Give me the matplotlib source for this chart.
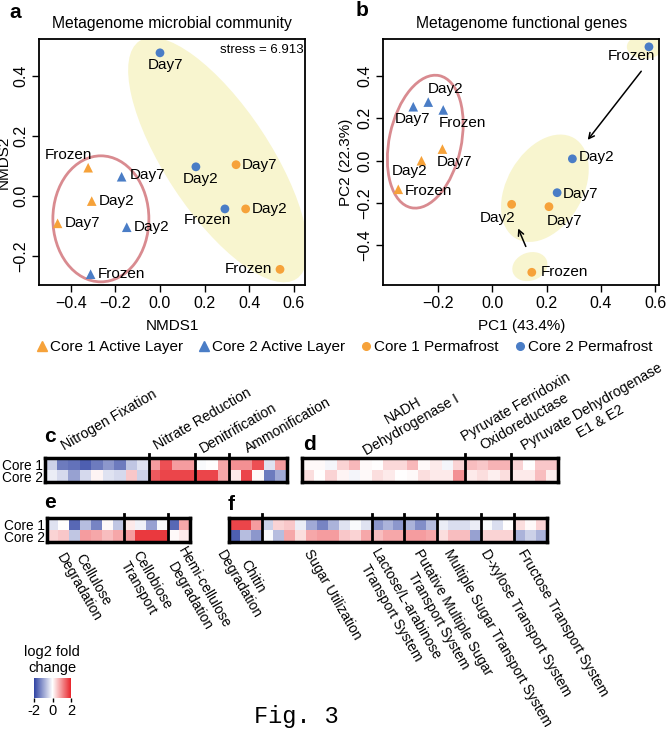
import numpy as np
import matplotlib
matplotlib.use("Agg")
import matplotlib.pyplot as plt
from matplotlib.patches import Ellipse
from matplotlib.transforms import ScaledTranslation
from matplotlib.colors import LinearSegmentedColormap, Normalize
from matplotlib.lines import Line2D
import matplotlib.cm as cm

plt.rcParams['font.family'] = ['Liberation Sans', 'DejaVu Sans']

# ---- ordination data: C1 active, C2 active, C1 permafrost, C2 permafrost ----
sample_core = [1, 1, 1, 2, 2, 2, 1, 1, 1, 2, 2, 2]
sample_layer = ['Active'] * 6 + ['Permafrost'] * 6
sample_day = ['Frozen', 'Day2', 'Day7'] * 4

nmds1 = [-0.322, -0.306, -0.459, -0.311, -0.149, -0.172,
         0.538, 0.384, 0.341, 0.291, 0.161, 0.0]
nmds2 = [0.094, -0.017, -0.091, -0.260, -0.104, 0.064,
         -0.244, -0.043, 0.104, -0.043, 0.097, 0.476]

pc1 = [-0.344, -0.259, -0.182, -0.179, -0.234, -0.289,
       0.146, 0.072, 0.209, 0.576, 0.295, 0.239]
pc2 = [-0.135, 0.0, 0.055, 0.240, 0.277, 0.255,
       -0.527, -0.206, -0.217, 0.538, 0.009, -0.151]

a_ticks_x = [-0.4, -0.2, 0.0, 0.2, 0.4, 0.6]
a_ticks_y = [-0.2, 0.0, 0.2, 0.4]
b_ticks_x = [-0.2, 0.0, 0.2, 0.4, 0.6]
b_ticks_y = [-0.4, -0.2, 0.0, 0.2, 0.4]

# ---- heatmap data (log2 fold change) ----
c_groups = [("Nitrogen Fixation", 9), ("Nitrate Reduction", 4),
            ("Denitrification", 3), ("Ammonification", 5)]
c_core1 = [-0.5, -1.4, -1.5, -1.7, -1.4, -1.1, -1.4, -0.6, -0.3,
           0.9, 1.6, 0.9, 0.9,
           -0.05, 0.0, 0.8,
           1.0, 1.0, 1.6, -0.3, 0.9]
c_core2 = [-0.2, -0.4, -1.0, -0.4, 0.1, -0.3, -0.4, 0.5, -0.5,
           1.5, 1.7, 1.7, 1.7,
           1.7, 1.7, 0.8,
           0.2, 1.7, 0.05, -1.4, -0.9]

d_groups = [("NADH\nDehydrogenase I", 14),
            ("Pyruvate Ferridoxin\nOxidoreductase", 4),
            ("Pyruvate Dehydrogenase\nE1 & E2", 4)]
d_core1 = [0.05, 0.05, -0.1, 0.4, 0.65, 0.05, 0.0, 0.35, 0.35, 0.65, 0.05, 0.2, -0.1, 0.4,
           0.6, 0.5, 0.7, 0.7,
           0.4, 0.0, 0.5, 0.5]
d_core2 = [0.3, 0.0, 0.4, 0.1, -0.1, 0.05, 0.3, 0.2, 0.0, 0.05, 0.3, 0.2, 0.2, 1.0,
           0.2, 0.3, 0.15, 0.3,
           0.2, 0.2, 0.6, 0.15]

e_groups = [("Cellulose\nDegradation", 7), ("Cellobiose\nTransport", 4),
            ("Hemi-cellulose\nDegradation", 2)]
e_core1 = [-0.3, 0.0, -1.6, -0.7, -1.3, 0.05, -0.6,
           0.2, -0.15, -1.0, -0.05,
           -1.6, 0.8]
e_core2 = [0.4, 0.5, -0.6, 0.9, 0.8, 0.6, 0.8,
           0.9, 1.8, 1.8, 1.8,
           0.05, 0.2]

f_groups = [("Chitin\nDegradation", 3), ("Sugar Utilization", 10),
            ("Lactose/L-arabinose\nTransport System", 3),
            ("Putative Multiple Sugar\nTransport System", 3),
            ("Multiple Sugar Transport System", 4),
            ("D-xylose Transport System", 3),
            ("Fructose Transport System", 3)]
f_core1 = [1.7, 1.7, 0.9,
           -0.5, 0.4, 0.5, -0.2, -0.9, -1.3, -0.8, -0.3, -0.05, -0.3,
           -1.1, -0.8, -1.1,
           -0.8, -1.2, -0.7,
           -0.2, -0.35, -0.35, -0.2,
           -0.05, -0.35, 0.0,
           0.3, 0.05, 0.4]
f_core2 = [-1.7, -0.7, -1.1,
           -0.05, -0.7, 0.8, 0.3, 0.8, 0.9, 0.9, 0.5, 0.4, 0.8,
           0.6, 0.8, 0.8,
           0.9, 0.9, 0.8,
           0.3, 0.6, 0.6, -1.0,
           0.4, 0.4, 0.4,
           -0.8, -0.5, -0.8]

ORANGE = '#f6a23a'
BLUE = '#4a7dc6'
ROSE = '#d98b90'
CREAM = '#f8f5cf'
core_color = {1: ORANGE, 2: BLUE}
layer_marker = {'Active': '^', 'Permafrost': 'o'}
lfc_cmap = LinearSegmentedColormap.from_list('lfc', ['#2f43a3', '#ffffff', '#e8242a'])

W, H, DPI = 670, 730, 100
fig = plt.figure(figsize=(W / DPI, H / DPI), dpi=DPI)


def px_axes(x0, y0, x1, y1):
    return fig.add_axes([x0 / W, 1 - y1 / H, (x1 - x0) / W, (y1 - y0) / H])


def ftext(x, y, s, **kw):
    return fig.text(x / W, 1 - y / H, s, **kw)


def halo(ax, cx, cy, w, h, ang, **kw):
    # ellipse sized in pixels, centred on a data point
    tr = fig.dpi_scale_trans + ScaledTranslation(cx, cy, ax.transData)
    ax.add_patch(Ellipse((0, 0), w / DPI, h / DPI, angle=ang, transform=tr, **kw))


def fmt(t):
    return f'{t:.1f}'.replace('-', '\u2212')


def ordination(ax, xs, ys, offsets, xt, yt, xlim, ylim):
    for i in range(len(xs)):
        ax.scatter(xs[i], ys[i], s=48 if sample_layer[i] == 'Active' else 40,
                   marker=layer_marker[sample_layer[i]],
                   color=core_color[sample_core[i]], edgecolors='none', zorder=3)
        dx, dy, ha = offsets[i]
        ax.annotate(sample_day[i], (xs[i], ys[i]), xytext=(dx, dy),
                    textcoords='offset pixels', ha=ha, va='center', fontsize=11, zorder=4)
    ax.set_xlim(*xlim)
    ax.set_ylim(*ylim)
    ax.set_xticks(xt, [fmt(t) for t in xt])
    ax.set_yticks(yt, [fmt(t) for t in yt])
    ax.tick_params(direction='out', length=5, width=1, labelsize=11.5, pad=3)
    for lab in ax.get_yticklabels():
        lab.set_rotation(90)
        lab.set_va('center')
    for s in ax.spines.values():
        s.set_linewidth(1.3)


# ---- panel a ----
ax_a = px_axes(39.3, 39, 305, 285)
a_off = [(-20, 12.7, 'center'), (7, 0, 'left'), (7, 0, 'left'), (7, 0, 'left'),
         (7, 0, 'left'), (8, 1.7, 'left'), (-8, 0, 'right'), (6.5, 0, 'left'),
         (5.5, 0, 'left'), (-17.7, -11, 'center'), (5, -11.7, 'center'), (6, -11.7, 'center')]
halo(ax_a, 0.26, 0.12, 285, 105, -56.6, facecolor=CREAM, edgecolor='none', zorder=1)
halo(ax_a, -0.265, -0.076, 96, 126, 0, facecolor='none', edgecolor=ROSE, lw=2, zorder=2)
ordination(ax_a, nmds1, nmds2, a_off, a_ticks_x, a_ticks_y, (-0.541, 0.650), (-0.296, 0.522))
ax_a.set_xlabel('NMDS1', fontsize=11, labelpad=6)
ax_a.set_ylabel('NMDS2', fontsize=11, labelpad=2)
ax_a.set_title('Metagenome microbial community', fontsize=11.3, pad=8)
ax_a.text(0.995, 0.955, 'stress = 6.913', transform=ax_a.transAxes,
          ha='right', va='center', fontsize=9.5)

# ---- panel b ----
ax_b = px_axes(383.3, 39, 659.3, 285)
b_off = [(6.7, -1.7, 'left'), (-12.3, -10.3, 'center'), (11.7, -13.3, 'center'),
         (19.4, -13.3, 'center'), (17.7, 12.7, 'center'), (-0.6, -12.6, 'center'),
         (9, 0, 'left'), (-14, -14, 'center'), (16, -14, 'center'),
         (-17.3, -9.3, 'center'), (6, 2, 'left'), (5.7, -1.3, 'left')]
halo(ax_b, 0.194, -0.130, 116, 76, 60, facecolor=CREAM, edgecolor='none', zorder=1)
halo(ax_b, 0.139, -0.50, 36, 28, 20, facecolor=CREAM, edgecolor='none', zorder=1)
halo(ax_b, 0.561, 0.538, 36, 24, 0, facecolor=CREAM, edgecolor='none', zorder=1)
halo(ax_b, -0.245, 0.09, 72, 135, -12, facecolor='none', edgecolor=ROSE, lw=2, zorder=2)
ordination(ax_b, pc1, pc2, b_off, b_ticks_x, b_ticks_y, (-0.399, 0.614), (-0.587, 0.575))
ax_b.annotate('', xy=(0.345, 0.088), xytext=(0.554, 0.433),
              arrowprops=dict(arrowstyle='->', color='black', lw=1.1))
ax_b.annotate('', xy=(0.092, -0.308), xytext=(0.128, -0.417),
              arrowprops=dict(arrowstyle='->', color='black', lw=1.1))
ax_b.set_xlabel('PC1 (43.4%)', fontsize=11, labelpad=6)
ax_b.set_ylabel('PC2 (22.3%)', fontsize=11, labelpad=3)
ax_b.set_title('Metagenome functional genes', fontsize=11.3, pad=8)

ftext(15, 12, 'a', fontsize=15, fontweight='bold', ha='center', va='center')
ftext(362, 11, 'b', fontsize=15, fontweight='bold', ha='center', va='center')

# ---- legend ----
handles = [Line2D([], [], ls='none', marker='^', color=ORANGE, markersize=6.5),
           Line2D([], [], ls='none', marker='^', color=BLUE, markersize=6.5),
           Line2D([], [], ls='none', marker='o', color=ORANGE, markersize=5.5),
           Line2D([], [], ls='none', marker='o', color=BLUE, markersize=5.5)]
fig.legend(handles, ['Core 1 Active Layer', 'Core 2 Active Layer',
                     'Core 1 Permafrost', 'Core 2 Permafrost'],
           loc='center', bbox_to_anchor=(0.514, 1 - 347 / H), ncol=4, frameon=False,
           fontsize=11, handlelength=0.7, handletextpad=0.2, columnspacing=1.0,
           borderaxespad=0, borderpad=0)


# ---- heatmaps ----
def heat(rect, core1, core2, groups, rows=False):
    ax = px_axes(*rect)
    vals = np.array([core1, core2])
    ax.pcolormesh(vals, cmap=lfc_cmap, vmin=-2, vmax=2)
    ax.set_xlim(0, len(core1))
    ax.set_ylim(2, 0)
    ax.set_xticks([])
    if rows:
        ax.set_yticks([0.5, 1.5], ['Core 1', 'Core 2'])
        ax.tick_params(axis='y', length=0, pad=1.5, labelsize=9.8)
    else:
        ax.set_yticks([])
    for s in ax.spines.values():
        s.set_linewidth(2.5)
    for edge in np.cumsum([n for _, n in groups])[:-1]:
        ax.plot([edge, edge], [2, -0.35], color='black', lw=2, clip_on=False)
    return ax


heat((45, 458, 287, 482), c_core1, c_core2, c_groups, rows=True)
heat((302, 458, 558, 482), d_core1, d_core2, d_groups)
heat((47, 518, 190, 542), e_core1, e_core2, e_groups, rows=True)
heat((229, 518, 547, 542), f_core1, f_core2, f_groups)

ftext(50, 436, 'c', fontsize=15, fontweight='bold', ha='center', va='center')
ftext(310, 445, 'd', fontsize=15, fontweight='bold', ha='center', va='center')
ftext(50, 503, 'e', fontsize=15, fontweight='bold', ha='center', va='center')
ftext(231, 505, 'f', fontsize=15, fontweight='bold', ha='center', va='center')

top_pos = [(65, 450), (157, 450), (203, 453), (248, 453),
           (365, 453), (472, 454), (532, 463)]
for (name, _), (x, y) in zip(c_groups + d_groups, top_pos):
    ftext(x, y, name, rotation=30, rotation_mode='anchor', ha='left',
          va='baseline', multialignment='center', fontsize=10.2)

bot_pos = [(80, 543), (142, 548), (187, 545),
           (240, 540), (313, 547), (380, 547), (423, 547),
           (453, 547), (490, 547), (527, 547)]
for (name, _), (x, y) in zip(e_groups + f_groups, bot_pos):
    ftext(x, y, name, rotation=-60, rotation_mode='anchor', ha='left',
          va='top', multialignment='center', fontsize=10)

# ---- colour key ----
ax_cb = px_axes(34, 678, 71, 698)
cb = fig.colorbar(cm.ScalarMappable(norm=Normalize(-2, 2), cmap=lfc_cmap),
                  cax=ax_cb, orientation='horizontal')
cb.set_ticks([-2, 0, 2], labels=['-2', '0', '2'])
cb.outline.set_visible(False)
ax_cb.tick_params(length=3, width=1, labelsize=10.5, pad=1)
ftext(52, 660, 'log2 fold\nchange', ha='center', va='center', fontsize=10.5)

ftext(296, 717, 'Fig. 3', ha='center', va='center', fontsize=17,
      family='Liberation Mono')

fig.savefig('out.png', dpi=DPI)
